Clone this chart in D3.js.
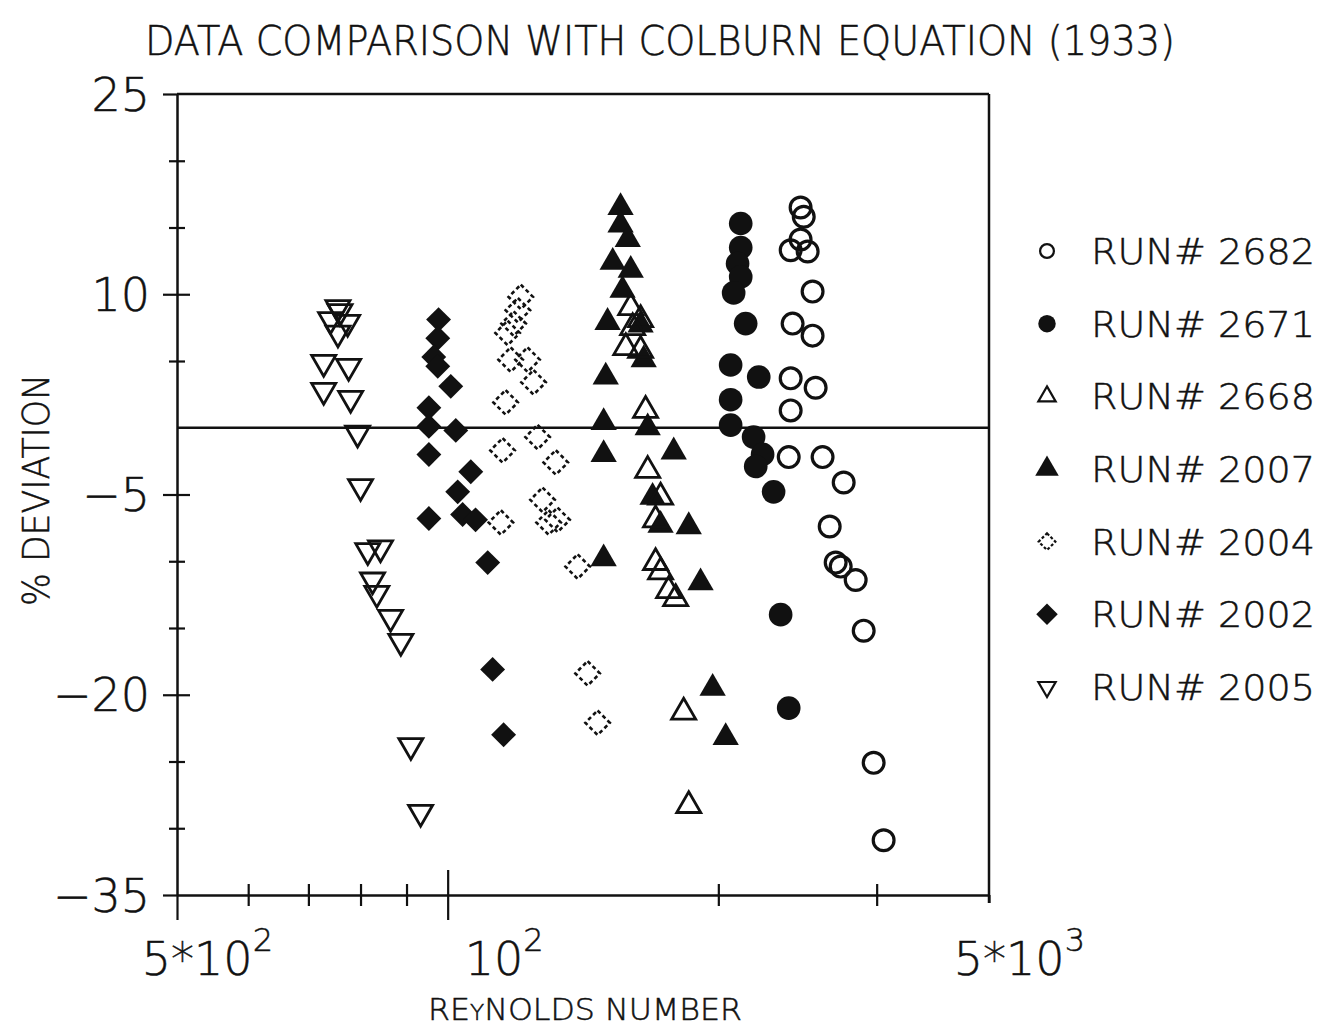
<!DOCTYPE html>
<html>
<head>
<meta charset="utf-8">
<script src="https://cdn.jsdelivr.net/npm/d3@7"></script>
<style>
  body { margin: 0; background: #fff; }
  text { font-family: 'DejaVu Sans', sans-serif; font-weight: 200; fill: #111; stroke: #111; stroke-width: 0.5; }
</style>
</head>
<body>
<svg id="chart" width="1323" height="1027"></svg>
<script>
// ---- data: Reynolds number vs % deviation from the Colburn equation ----
const runLabels = ["RUN# 2682", "RUN# 2671", "RUN# 2668", "RUN# 2007", "RUN# 2004", "RUN# 2002", "RUN# 2005"];

const run2682Re  = [2469, 2489, 2469, 2407, 2514, 2546, 2419, 2546, 2407, 2566, 2407, 2395, 2612, 2757, 2660, 2701, 2736, 2843, 2902, 2977, 3054];
const run2682Dev = [16.5, 15.8, 14.1, 13.3, 13.2, 10.2, 7.8, 6.9, 3.7, 3.0, 1.3, -2.2, -2.2, -4.1, -7.4, -10.1, -10.4, -11.4, -15.2, -25.1, -30.9];

const run2671Re  = [2118, 2118, 2101, 2118, 2080, 2145, 2064, 2218, 2064, 2064, 2189, 2240, 2201, 2304, 2346, 2395];
const run2671Dev = [15.3, 13.5, 12.3, 11.3, 10.1, 7.8, 4.7, 3.8, 2.1, 0.2, -0.7, -2.0, -2.9, -4.8, -14.0, -21.0];

const run2668Re  = [1598, 1639, 1606, 1578, 1639, 1660, 1669, 1725, 1703, 1703, 1725, 1761, 1793, 1830, 1854];
const run2668Dev = [9.0, 8.1, 7.5, 6.0, 5.8, 1.3, -3.2, -5.2, -6.9, -10.1, -10.8, -12.2, -12.8, -21.3, -28.3];

const run2007Re  = [1557, 1557, 1586, 1526, 1598, 1565, 1506, 1639, 1652, 1499, 1491, 1669, 1491, 1784, 1690, 1725, 1854, 1491, 1911, 1971, 2038];
const run2007Dev = [16.5, 15.2, 14.1, 12.4, 11.8, 10.3, 7.9, 7.7, 5.1, 3.8, 0.4, 0.0, -2.0, -1.8, -5.2, -7.3, -7.4, -9.8, -11.6, -19.5, -23.2];

const run2004Re  = [1206, 1197, 1184, 1166, 1175, 1227, 1246, 1160, 1151, 1259, 1319, 1275, 1325, 1295, 1146, 1395, 1431, 1468];
const run2004Dev = [9.8, 8.8, 7.8, 7.1, 5.1, 5.1, 3.4, 1.9, -1.7, -0.7, -2.6, -5.4, -6.9, -7.1, -7.1, -10.4, -18.4, -22.1];

const run2002Re  = [977, 975, 965, 975, 1008, 953, 953, 1021, 953, 1061, 1026, 1039, 1074, 953, 1108, 1122, 1154];
const run2002Dev = [8.1, 6.7, 5.3, 4.6, 3.1, 1.5, 0.1, -0.2, -2.0, -3.3, -4.8, -6.5, -6.9, -6.8, -10.1, -18.1, -23.0];

const run2005Re  = [755, 759, 741, 774, 755, 728, 776, 728, 780, 794, 800, 815, 842, 825, 834, 864, 887, 910, 933];
const run2005Dev = [9.0, 8.7, 8.1, 7.9, 7.1, 4.9, 4.6, 2.8, 2.2, -0.4, -4.4, -9.2, -9.0, -11.4, -12.4, -14.2, -16.0, -23.8, -28.8];

// axis ticks
const yTickValues   = [25, 20, 15, 10, 5, -5, -10, -15, -20, -25, -30, -35];
const yLabelValues  = [25, 10, -5, -20, -35];
const yLabelText    = ["25", "10", "\u22125", "\u221220", "\u221235"];
const xTickValues   = [500, 600, 700, 800, 900, 1000, 2000, 3000, 4000];
const xMajorValues  = [500, 1000];
const xLabelValues  = [500, 1000, 4000];
const xLabelBase    = ["5*10", "10", "5*10"];
const xLabelExp     = ["2", "2", "3"];

// ---- layout ----
const svg = d3.select("#chart");
const plotL = 177, plotR = 989, plotT = 94, plotB = 895;
const x = d3.scaleLog().domain([500, 4000]).range([plotL, plotR]);
const y = d3.scaleLinear().domain([-35, 25]).range([plotB, plotT]);
const INK = "#111";

// square-ish diamond marker
const symbolRhomb = {
  draw(ctx, size) {
    const r = Math.sqrt(size / 2);
    ctx.moveTo(0, -r); ctx.lineTo(r, 0); ctx.lineTo(0, r); ctx.lineTo(-r, 0); ctx.closePath();
  }
};

const series = [
  { label: runLabels[6], re: run2005Re, dev: run2005Dev, type: d3.symbolTriangle, size: 250, legendSize: 130, rot: 180, filled: false, sw: 2.8, dash: null },
  { label: runLabels[5], re: run2002Re, dev: run2002Dev, type: symbolRhomb,       size: 310, legendSize: 230, rot: 0,   filled: true,  sw: 0,   dash: null },
  { label: runLabels[4], re: run2004Re, dev: run2004Dev, type: symbolRhomb,       size: 300, legendSize: 140, rot: 0,   filled: false, sw: 2.6, dash: "4 3" },
  { label: runLabels[3], re: run2007Re, dev: run2007Dev, type: d3.symbolTriangle, size: 300, legendSize: 240, rot: 0,   filled: true,  sw: 0,   dash: null },
  { label: runLabels[2], re: run2668Re, dev: run2668Dev, type: d3.symbolTriangle, size: 250, legendSize: 130, rot: 0,   filled: false, sw: 2.8, dash: null },
  { label: runLabels[1], re: run2671Re, dev: run2671Dev, type: d3.symbolCircle,   size: 440, legendSize: 240, rot: 0,   filled: true,  sw: 0,   dash: null },
  { label: runLabels[0], re: run2682Re, dev: run2682Dev, type: d3.symbolCircle,   size: 340, legendSize: 150, rot: 0,   filled: false, sw: 3.2, dash: null }
];

// ---- title ----
svg.append("text")
  .attr("x", 660).attr("y", 55)
  .attr("text-anchor", "middle")
  .attr("font-size", 40)
  .attr("textLength", 1030).attr("lengthAdjust", "spacingAndGlyphs")
  .text("DATA COMPARISON WITH COLBURN EQUATION (1933)");

// ---- frame ----
const frame = svg.append("g").attr("stroke", INK).attr("stroke-width", 2.5).attr("fill", "none");
frame.append("line").attr("x1", plotL).attr("x2", plotR).attr("y1", plotT).attr("y2", plotT);
frame.append("line").attr("x1", plotR).attr("x2", plotR).attr("y1", plotT).attr("y2", plotB + 8);

// ---- y axis ----
const yAxisG = svg.append("g").attr("transform", `translate(${plotL},0)`)
  .call(d3.axisLeft(y).tickValues(yTickValues).tickFormat("").tickSizeOuter(0));
yAxisG.select(".domain").attr("stroke", INK).attr("stroke-width", 2.5);
yAxisG.selectAll(".tick line")
  .attr("stroke", INK).attr("stroke-width", 2.2)
  .attr("x1", d => yLabelValues.includes(d) ? -14 : -8)
  .attr("x2", d => (d === 25 || d === -35) ? 0 : (yLabelValues.includes(d) ? 13 : 8));

svg.append("g").selectAll("text")
  .data(yLabelValues)
  .join("text")
  .attr("x", plotL - 27)
  .attr("y", d => y(d))
  .attr("dy", "0.36em")
  .attr("text-anchor", "end")
  .attr("font-size", 46)
  .text((d, i) => yLabelText[i]);

// ---- x axis ----
const xAxisG = svg.append("g").attr("transform", `translate(0,${plotB})`)
  .call(d3.axisBottom(x).tickValues(xTickValues).tickFormat("").tickSizeOuter(0));
xAxisG.select(".domain").attr("stroke", INK).attr("stroke-width", 2.5);
xAxisG.selectAll(".tick line")
  .attr("stroke", INK).attr("stroke-width", 2.2)
  .attr("y1", d => d === 1000 ? -25 : (d === 500 || d === 4000 ? 0 : -11))
  .attr("y2", d => xMajorValues.includes(d) ? 25 : (d === 4000 ? 8 : 11));

const xLab = svg.append("g").selectAll("text")
  .data(xLabelValues)
  .join("text")
  .attr("x", d => x(d) + 96)
  .attr("y", 975)
  .attr("text-anchor", "end")
  .attr("font-size", 46);
xLab.append("tspan").text((d, i) => xLabelBase[i]);
xLab.append("tspan").attr("dy", -24).attr("font-size", 32).text((d, i) => xLabelExp[i]);

// ---- axis titles ----
const xTitle = svg.append("text")
  .attr("x", 585).attr("y", 1020)
  .attr("text-anchor", "middle")
  .attr("font-size", 30)
  .attr("textLength", 314).attr("lengthAdjust", "spacingAndGlyphs");
xTitle.append("tspan").text("RE");
xTitle.append("tspan").attr("font-size", 22).text("Y");
xTitle.append("tspan").text("NOLDS NUMBER");

svg.append("text")
  .attr("transform", "translate(49,490) rotate(-90)")
  .attr("text-anchor", "middle")
  .attr("font-size", 38)
  .attr("textLength", 232).attr("lengthAdjust", "spacingAndGlyphs")
  .text("% DEVIATION");

// ---- zero reference line ----
svg.append("line")
  .attr("x1", plotL).attr("x2", plotR)
  .attr("y1", y(0)).attr("y2", y(0))
  .attr("stroke", INK).attr("stroke-width", 2.4);

// ---- markers ----
const plot = svg.append("g");
series.forEach(s => {
  const pts = s.re.map((r, i) => ({ re: r, dev: s.dev[i] }));
  const sym = d3.symbol().type(s.type).size(s.size);
  plot.append("g").selectAll("path")
    .data(pts)
    .join("path")
    .attr("d", sym)
    .attr("transform", d => `translate(${x(d.re)},${y(d.dev)}) rotate(${s.rot})`)
    .attr("fill", s.filled ? INK : "none")
    .attr("stroke", s.filled ? "none" : INK)
    .attr("stroke-width", s.sw)
    .attr("stroke-dasharray", s.dash);
});

// ---- legend ----
const legendRows = [...series].reverse();
const legendY = d3.scalePoint().domain(legendRows.map(s => s.label)).range([251, 687]);
const leg = svg.append("g").selectAll("g")
  .data(legendRows)
  .join("g")
  .attr("transform", s => `translate(1047,${legendY(s.label)})`);
leg.append("path")
  .attr("d", s => d3.symbol().type(s.type).size(s.legendSize)())
  .attr("transform", s => `rotate(${s.rot})`)
  .attr("fill", s => s.filled ? INK : "none")
  .attr("stroke", s => s.filled ? "none" : INK)
  .attr("stroke-width", s => s.sw ? 2.2 : 0)
  .attr("stroke-dasharray", s => s.dash ? "3 2" : null);
leg.append("text")
  .attr("x", 44).attr("y", 13)
  .attr("font-size", 36)
  .attr("textLength", 224).attr("lengthAdjust", "spacingAndGlyphs")
  .text(s => s.label);
</script>
</body>
</html>
